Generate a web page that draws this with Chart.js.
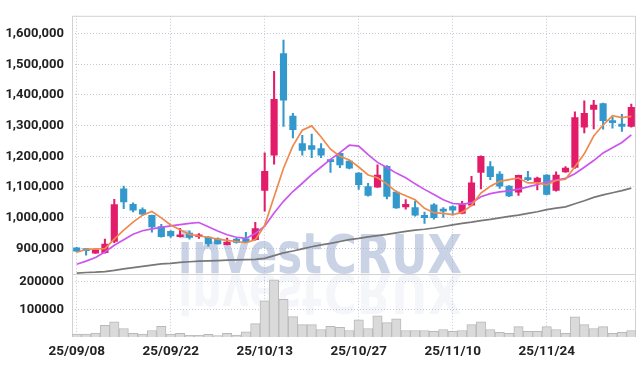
<!DOCTYPE html>
<html>
<head>
<meta charset="utf-8">
<style>
  html, body { margin: 0; padding: 0; background: #fff; }
  #wrap { width: 644px; height: 366px; }
</style>
</head>
<body>
<div id="wrap">
    <canvas id="myChart" width="644" height="366"></canvas>
</div>

<script src="https://cdn.jsdelivr.net/npm/chart.js"></script>

<script>
    // trading days, 25/09/08 .. 25/12/05
    const dates = [
        '25/09/08', '25/09/09', '25/09/10', '25/09/11', '25/09/12', '25/09/15', '25/09/16', '25/09/17', '25/09/18', '25/09/19',
        '25/09/22', '25/09/23', '25/09/24', '25/09/25', '25/09/26', '25/09/29', '25/09/30', '25/10/01', '25/10/02', '25/10/10',
        '25/10/13', '25/10/14', '25/10/15', '25/10/16', '25/10/17', '25/10/20', '25/10/21', '25/10/22', '25/10/23', '25/10/24',
        '25/10/27', '25/10/28', '25/10/29', '25/10/30', '25/10/31', '25/11/03', '25/11/04', '25/11/05', '25/11/06', '25/11/07',
        '25/11/10', '25/11/11', '25/11/12', '25/11/13', '25/11/14', '25/11/17', '25/11/18', '25/11/19', '25/11/20', '25/11/21',
        '25/11/24', '25/11/25', '25/11/26', '25/11/27', '25/11/28', '25/12/01', '25/12/02', '25/12/03', '25/12/04', '25/12/05'
    ];

    const openP = [
        901000, 897900, 884100, 886000, 922600, 1093700, 1043300, 1026300, 1007000, 970800,
        955600, 937400, 949200, 937400, 936400, 931000, 911700, 930000, 931000, 927700,
        1088200, 1203800, 1534500, 1331300, 1241400, 1234900, 1225300, 1189000, 1209300, 1184500,
        1145000, 1101100, 1099200, 1167500, 1083100, 1034900, 1032700, 1007000, 1041400, 1026300,
        1035900, 1013500, 1040100, 1147300, 1166600, 1141900, 1102400, 1083100, 1129000, 1115200,
        1138600, 1088200, 1149200, 1163300, 1294900, 1352700, 1372000, 1315200, 1304600, 1296900
    ];
    const highP = [
        903000, 898000, 895000, 930000, 1059300, 1102400, 1047800, 1031700, 1008000, 978100,
        958000, 965300, 956600, 948000, 938000, 934000, 933200, 932000, 952000, 984600,
        1211500, 1476700, 1578500, 1340000, 1268000, 1272500, 1241000, 1190000, 1213000, 1187000,
        1147000, 1112000, 1171700, 1170000, 1087000, 1058400, 1054200, 1017600, 1046000, 1032700,
        1038000, 1053000, 1134500, 1201000, 1182600, 1150000, 1104000, 1139000, 1150500, 1132000,
        1140000, 1149200, 1166600, 1345100, 1380400, 1382600, 1373000, 1327100, 1336700, 1369800
    ];
    const lowP = [
        888000, 877600, 883000, 884000, 918000, 1029500, 1018900, 1006000, 952400, 936000,
        935000, 936000, 930000, 932000, 906500, 913000, 911000, 917000, 918000, 926000,
        1020800, 1174000, 1297000, 1259700, 1203800, 1195400, 1195000, 1147300, 1163000, 1159000,
        1091500, 1070000, 1098000, 1060600, 1030000, 1027300, 1005000, 981300, 995000, 1000600,
        1008000, 1012000, 1038000, 1093700, 1123600, 1095000, 1068000, 1072200, 1120000, 1090500,
        1074000, 1086000, 1147000, 1160000, 1275700, 1289500, 1288500, 1291800, 1280900, 1295000
    ];
    const closeP = [
        890500, 892400, 894700, 913900, 1042300, 1051000, 1024000, 1011200, 969500, 937400,
        940600, 943800, 935400, 943800, 915000, 914000, 920300, 919400, 920300, 964300,
        1150500, 1385800, 1382600, 1286300, 1218900, 1222200, 1203800, 1182600, 1171700, 1161100,
        1107600, 1072200, 1138600, 1069000, 1031700, 1043300, 1008000, 999600, 999600, 1020900,
        1024100, 1042300, 1113000, 1199600, 1133200, 1102400, 1070300, 1137700, 1123600, 1129000,
        1075400, 1138600, 1161100, 1325800, 1339900, 1366600, 1316100, 1309800, 1296900, 1359200
    ];

    // moving average lines
    const ma5 = [
        887000, 896000, 898000, 899000, 930000, 959000, 985000, 1008000, 1020000, 999000,
        976000, 960000, 945000, 940000, 936000, 930000, 926000, 922000, 918000, 928000,
        975000, 1068000, 1161000, 1234000, 1285000, 1299000, 1263000, 1223000, 1200000, 1188000,
        1165000, 1139000, 1130000, 1110000, 1084000, 1071000, 1058000, 1030000, 1016000, 1014000,
        1010000, 1017000, 1040000, 1080000, 1102000, 1118000, 1124000, 1129000, 1113000, 1113000,
        1107000, 1121000, 1125000, 1166000, 1208000, 1266000, 1302000, 1332000, 1326000, 1330000
    ];
    const ma20 = [
        848000, 858000, 870000, 888000, 910000, 928000, 946000, 957000, 963000, 968000,
        973000, 977000, 981000, 984000, 970000, 956000, 944000, 936000, 932000, 948000,
        972000, 1015000, 1053000, 1085000, 1112000, 1140000, 1165000, 1190000, 1212000, 1236000,
        1233000, 1205000, 1180000, 1163000, 1145000, 1130000, 1110000, 1092000, 1075000, 1058000,
        1046000, 1044000, 1048000, 1068000, 1078000, 1084000, 1087000, 1093000, 1100000, 1108000,
        1116000, 1122000, 1128000, 1143000, 1164000, 1186000, 1211000, 1228000, 1245000, 1270000
    ];
    const ma60 = [
        819000, 821000, 822000, 824000, 828000, 833000, 837000, 841000, 845000, 849000,
        851000, 854000, 856000, 858000, 859000, 860000, 861000, 862000, 863000, 864000,
        867000, 876000, 885000, 891000, 898000, 905000, 911000, 916000, 922000, 928000,
        932000, 937000, 941000, 945000, 950000, 955000, 959000, 962000, 966000, 971000,
        976000, 981000, 985000, 990000, 994000, 999000, 1004000, 1008000, 1014000, 1019000,
        1026000, 1031000, 1035000, 1045000, 1055000, 1066000, 1074000, 1081000, 1088000, 1096000
    ];

    const volume = [
        10500, 10500, 14000, 42000, 55000, 30500, 13000, 10500, 23500, 38600,
        10500, 13000, 6000, 6000, 9400, 4700, 13000, 7000, 18700, 48000,
        130000, 206000, 136000, 73700, 44500, 44500, 27000, 38600, 35000, 23500,
        62000, 30500, 76000, 51600, 65600, 23500, 23500, 23500, 20000, 27000,
        20000, 23500, 44500, 55000, 27000, 16500, 13000, 37500, 20000, 20000,
        37500, 27000, 13000, 72600, 44500, 30500, 37500, 13000, 16500, 23500
    ];

    const priceTicks = [900000, 1000000, 1100000, 1200000, 1300000, 1400000, 1500000, 1600000];
    const volumeTicks = [100000, 200000];

    const UP = '#e31c6a';
    const DOWN = '#3399cc';
    const GRID = '#c6c9d9';
    const FONT = "Roboto, 'DejaVu Sans Condensed', sans-serif";

    const candleColor = dates.map((d, i) => closeP[i] >= openP[i] ? UP : DOWN);
    const bodies = dates.map((d, i) => [openP[i], closeP[i]]);
    const wicks = dates.map((d, i) => [lowP[i], highP[i]]);

    // watermark logo + panel frame
    const frame = {
        id: 'frame',
        beforeDatasetsDraw(chart) {
            const { ctx, chartArea } = chart;
            const sep = chart.scales.y.bottom;
            const left = chartArea.left + 106;
            const base = sep - 1;

            function word(fill) {
                ctx.fillStyle = fill;
                ctx.font = 'bold 44px "DejaVu Sans", sans-serif';
                ctx.textBaseline = 'alphabetic';
                const w1 = ctx.measureText('invest').width;
                const w2 = ctx.measureText('CRUX').width;
                ctx.save();
                ctx.translate(left, base);
                ctx.scale(144 / w1, 1.28);
                ctx.fillText('invest', 0, 0);
                ctx.restore();
                ctx.save();
                ctx.translate(left + 146, base);
                ctx.scale(138 / w2, 1.2);
                ctx.fillText('CRUX', 0, 0);
                ctx.restore();
            }

            ctx.save();
            word('rgba(150,165,205,0.5)');
            ctx.restore();

            // reflection
            ctx.save();
            ctx.beginPath();
            ctx.rect(chartArea.left, sep, chartArea.right - chartArea.left, 42);
            ctx.clip();
            ctx.translate(0, 2 * sep);
            ctx.scale(1, -1);
            const g = ctx.createLinearGradient(0, sep, 0, sep - 40);
            g.addColorStop(0, 'rgba(150,165,205,0.42)');
            g.addColorStop(1, 'rgba(150,165,205,0.1)');
            word(g);
            ctx.restore();

            ctx.save();
            ctx.strokeStyle = '#d2d2d2';
            ctx.lineWidth = 1;
            ctx.strokeRect(chartArea.left + 0.5, chartArea.top + 0.5,
                chartArea.right - chartArea.left - 1, chartArea.bottom - chartArea.top - 1);
            ctx.beginPath();
            ctx.moveTo(chartArea.left, Math.round(sep) + 0.5);
            ctx.lineTo(chartArea.right, Math.round(sep) + 0.5);
            ctx.stroke();
            ctx.restore();
        }
    };

    const ctx = document.getElementById('myChart');

    new Chart(ctx, {
        type: 'bar',
        data: {
            labels: dates,
            datasets: [
                { type: 'line', label: 'MA5', data: ma5, yAxisID: 'y', borderColor: '#ef8a4e', borderWidth: 1.7, pointRadius: 0, order: 0 },
                { type: 'line', label: 'MA20', data: ma20, yAxisID: 'y', borderColor: '#cc55ee', borderWidth: 1.7, pointRadius: 0, order: 0 },
                { type: 'line', label: 'MA60', data: ma60, yAxisID: 'y', borderColor: '#777777', borderWidth: 1.7, pointRadius: 0, order: 0 },
                { label: 'body', data: bodies, yAxisID: 'y', backgroundColor: candleColor, barThickness: 6.5, minBarLength: 2, grouped: false, order: 1 },
                { label: 'wick', data: wicks, yAxisID: 'y', backgroundColor: candleColor, barThickness: 1.4, grouped: false, order: 2 },
                { label: 'volume', data: volume, yAxisID: 'yv', backgroundColor: '#dadada', borderColor: '#b9b9b9', borderWidth: 1,
                  categoryPercentage: 1, barPercentage: 1, grouped: false, order: 3 }
            ]
        },
        options: {
            responsive: false,
            animation: false,
            layout: { padding: { top: 9, right: 8, left: 0, bottom: 0 } },
            plugins: { legend: { display: false }, tooltip: { enabled: false } },
            scales: {
                x: {
                    type: 'category',
                    offset: true,
                    grid: {
                        offset: false,
                        drawTicks: false,
                        color: c => (c.index % 10 === 0 ? GRID : 'rgba(0,0,0,0)')
                    },
                    border: { display: false, dash: [1, 2] },
                    ticks: {
                        autoSkip: false,
                        maxRotation: 0,
                        padding: 7,
                        color: '#222',
                        font: { family: FONT, size: 13.5, weight: 'bold' },
                        callback: function (v, i) { return i % 10 === 0 ? dates[i] : ''; }
                    },
                    afterFit: axis => { axis.height = 29; }
                },
                yv: {
                    position: 'left',
                    stack: 'panels',
                    stackWeight: 64,
                    min: 0,
                    max: 226000,
                    afterBuildTicks: axis => { axis.ticks = volumeTicks.map(v => ({ value: v })); },
                    grid: { color: GRID, drawTicks: false },
                    border: { display: false, dash: [1, 2] },
                    ticks: {
                        padding: 8,
                        color: '#222',
                        font: { family: FONT, size: 13, weight: 'bold' },
                        callback: v => String(v)
                    },
                    afterFit: axis => { axis.width = 72; }
                },
                y: {
                    position: 'left',
                    stack: 'panels',
                    stackWeight: 264,
                    min: 815000,
                    max: 1658000,
                    afterBuildTicks: axis => { axis.ticks = priceTicks.map(v => ({ value: v })); },
                    grid: { color: GRID, drawTicks: false },
                    border: { display: false, dash: [1, 2] },
                    ticks: {
                        padding: 8,
                        color: '#222',
                        font: { family: FONT, size: 13, weight: 'bold' },
                        callback: v => v.toLocaleString('en-US')
                    },
                    afterFit: axis => { axis.width = 72; }
                }
            }
        },
        plugins: [frame]
    });
</script>
</body>
</html>
